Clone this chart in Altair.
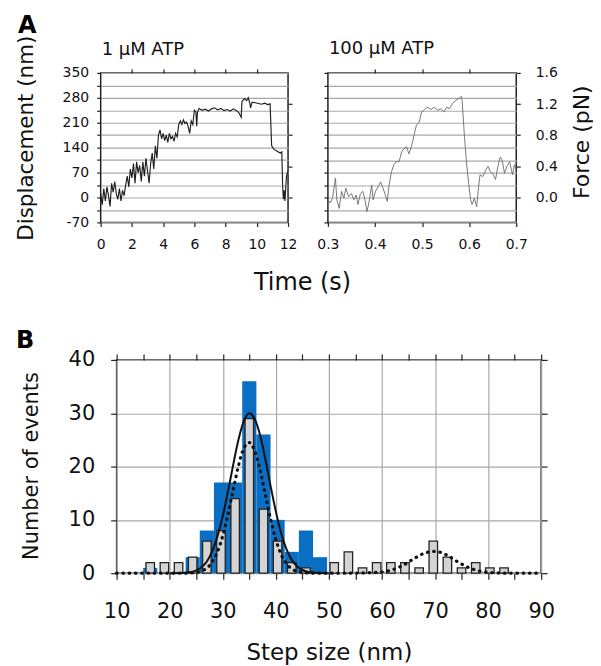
import altair as alt
import pandas as pd

FONT = "DejaVu Sans"

# ---------------- Panel A, left: 1 uM ATP (time s, displacement nm)
left_t = [0.0, 0.1, 0.2, 0.3, 0.4, 0.5, 0.6, 0.7, 0.8, 0.9,
          1.0, 1.1, 1.2, 1.3, 1.4, 1.5, 1.6, 1.7, 1.8, 1.9,
          2.0, 2.1, 2.2, 2.3, 2.4, 2.5, 2.6, 2.7, 2.8, 2.9,
          3.0, 3.1, 3.2, 3.3, 3.4, 3.5, 3.6, 3.7, 3.8, 3.9,
          4.0, 4.1, 4.2, 4.3, 4.4, 4.5, 4.6, 4.7, 4.8, 4.9,
          5.0, 5.1, 5.2, 5.3, 5.4, 5.5, 5.6, 5.7, 5.8, 5.9,
          6.0, 6.1, 6.15, 6.2, 6.3, 6.5, 6.7, 6.9, 7.1, 7.3,
          7.5, 7.7, 7.9, 8.1, 8.3, 8.5, 8.7, 8.85, 9.0, 9.05,
          9.2, 9.35, 9.45, 9.55, 9.6, 9.7, 9.9, 10.1, 10.3, 10.5,
          10.7, 10.85, 10.95, 11.1, 11.3, 11.5, 11.6, 11.65, 11.7, 11.75,
          11.8, 11.9, 12.0]
left_nm = [10, -20, 25, -10, 30, 5, -25, 40, 15, 45,
           10, -5, 25, -10, 20, 5, 35, 60, 30, 80,
           55, 95, 40, 100, 70, 90, 45, 100, 60, 110,
           75, 40, 95, 125, 80, 145, 110, 175, 190, 165,
           180, 160, 175, 155, 180, 165, 172, 158, 180, 170,
           205, 215, 205, 218, 208, 212, 200, 180, 215, 205,
           245, 240, 200, 240, 250, 245, 248, 243, 249, 252,
           246, 250, 244, 247, 243, 249, 244, 238, 225, 270,
           278, 272, 280, 265, 252, 268, 266, 264, 262, 265,
           261, 263, 145, 135, 130, 125, 128, 40, -5, 20,
           -10, 60, 75]

# ---------------- Panel A, right: 100 uM ATP (time s, force pN)
right_t = [0.300, 0.305, 0.310, 0.316, 0.319, 0.324, 0.329, 0.334, 0.338, 0.344,
           0.350, 0.355, 0.360, 0.364, 0.369, 0.374, 0.378, 0.383, 0.387, 0.393,
           0.396, 0.401, 0.407, 0.412, 0.417, 0.421, 0.426, 0.430, 0.435, 0.440,
           0.445, 0.451, 0.457, 0.462, 0.467, 0.472, 0.478, 0.483, 0.488, 0.494,
           0.499, 0.504, 0.511, 0.519, 0.526, 0.533, 0.540, 0.547, 0.552, 0.558,
           0.565, 0.572, 0.578, 0.583, 0.585, 0.590, 0.595, 0.599, 0.603, 0.606,
           0.611, 0.616, 0.620, 0.623, 0.629, 0.635, 0.640, 0.645, 0.650, 0.656,
           0.661, 0.666, 0.670, 0.675, 0.680, 0.686, 0.692, 0.696, 0.700]
right_pn = [-0.03, -0.07, 0.00, 0.25, -0.03, -0.14, 0.08, -0.01, 0.12, 0.01,
            0.05, -0.03, 0.03, -0.09, 0.05, 0.08, -0.01, -0.18, -0.07, 0.16,
            -0.03, 0.08, 0.14, 0.20, 0.12, 0.05, -0.05, 0.16, 0.33, 0.42,
            0.46, 0.46, 0.59, 0.63, 0.65, 0.56, 0.67, 0.80, 0.93, 0.97,
            1.10, 1.12, 1.16, 1.13, 1.16, 1.12, 1.14, 1.10, 1.16, 1.14,
            1.21, 1.25, 1.27, 1.30, 1.25, 0.78, 0.40, 0.18, -0.03, -0.09,
            -0.01, -0.12, 0.14, 0.29, 0.27, 0.35, 0.40, 0.33, 0.31, 0.23,
            0.40, 0.52, 0.48, 0.31, 0.40, 0.46, 0.29, 0.42, 0.35]

# ---------------- Panel B: step-size histograms
bin_centers = [11.0, 13.67, 16.33, 19.0, 21.67, 24.33, 27.0, 29.67, 32.33, 35.0,
               37.67, 40.33, 43.0, 45.67, 48.33, 51.0, 53.67, 56.33, 59.0, 61.67,
               64.33, 67.0, 69.67, 72.33, 75.0, 77.67, 80.33, 83.0, 85.67, 88.33]
blue_counts = [0, 0, 1, 0, 0, 3, 8, 17, 17, 36,
               26, 10, 4, 8, 3, 0, 0, 0, 0, 0,
               0, 0, 0, 0, 0, 0, 0, 0, 0, 0]
gray_counts = [0, 0, 2, 2, 2, 3, 6, 8, 14, 29,
               12, 6, 2, 1, 0, 2, 4, 1, 2, 2,
               2, 1, 6, 3, 1, 2, 1, 1, 0, 0]
fit_x = [20, 22, 24, 25, 26, 27, 28, 29, 30, 31, 32, 33, 34, 35,
         36, 37, 38, 39, 40, 41, 42, 43, 44, 45, 46, 47, 48, 50]
fit_y = [0.0, 0.03, 0.22, 0.52, 1.1, 2.2, 4.1, 6.9, 10.7, 15.4, 20.5, 25.2, 28.6, 30.0,
         29.0, 26.0, 21.5, 16.4, 11.6, 7.5, 4.5, 2.5, 1.3, 0.6, 0.27, 0.11, 0.04, 0.0]
dot_x = [10, 13, 16, 19, 22, 25, 26, 27, 28, 29, 30, 31, 32, 33, 34, 35, 36, 37, 38, 39,
         40, 41, 42, 43, 44, 46, 48, 51, 54, 57, 60, 62, 64, 66, 68, 70, 72, 74, 76, 78,
         80, 82, 84, 87, 90]
dot_y = [0, 0, 0, 0, 0, 0.14, 0.4, 0.95, 2.1, 4.0, 7.0, 11.1, 15.8, 20.3, 23.5, 24.5, 23.0, 19.5, 14.9, 10.2,
         6.3, 3.5, 1.8, 0.8, 0.33, 0.05, 0, 0, 0.02, 0.08, 0.22, 0.64, 1.5, 2.7, 3.75, 4.1, 3.5, 2.3, 1.2, 0.5,
         0.15, 0.04, 0, 0, 0]

# axis tick lists
a_left_ticks = [-70, -35, 0, 35, 70, 105, 140, 175, 210, 245, 280, 315, 350]
a_left_right_ticks = [0, 87.5, 175, 262.5]
a_left_time = [0, 2, 4, 6, 8, 10, 12]
a_left_top = [2, 4, 6, 8, 10]
a_right_grid = [-0.32, -0.16, 0.0, 0.16, 0.32, 0.48, 0.64, 0.8, 0.96, 1.12, 1.28, 1.44, 1.6]
a_right_labels = [0.0, 0.4, 0.8, 1.2, 1.6]
a_right_time = [0.3, 0.4, 0.5, 0.6, 0.7]
a_right_top = [0.4, 0.5, 0.6]
b_x_ticks = list(range(10, 91, 5))
b_y_ticks = [0, 10, 20, 30, 40]

one = pd.DataFrame({"k": [0]})
BLUE = "#0a6fc2"

# ================= Panel A left =================
dfL = pd.DataFrame({"t": left_t, "nm": left_nm})
xL = alt.Scale(domain=[0, 12], nice=False)
yL = alt.Scale(domain=[-70, 350], nice=False)

a1_axes = alt.Chart(dfL).mark_line(opacity=0).encode(
    x=alt.X("t:Q", scale=xL, axis=alt.Axis(
        orient="bottom", values=a_left_time, format="d", labelFontSize=14, labelPadding=11,
        tickSize=4, grid=False, title="Time (s)", titleX=202, titleY=67, titleAlign="center",
        titleBaseline="alphabetic", titleFontSize=24)),
    y=alt.Y("nm:Q", scale=yL, axis=alt.Axis(
        orient="left", values=a_left_ticks,
        labelExpr="datum.value % 70 === 0 ? '' + datum.value : ''",
        labelFontSize=14, labelPadding=8, tickSize=4, grid=True,
        title="Displacement (nm)", titleX=-68, titleY=65, titleAngle=270, titleAlign="center",
        titleBaseline="alphabetic", titleFontSize=21.5)),
)
a1_line = alt.Chart(dfL).mark_line(color="#1e1e1e", strokeWidth=1.15, clip=True).encode(
    x=alt.X("t:Q", scale=xL, axis=alt.Axis(orient="top", values=a_left_top, labels=False,
                                           tickSize=4, grid=False, title=None)),
    y=alt.Y("nm:Q", scale=yL, axis=alt.Axis(orient="right", values=a_left_right_ticks, labels=False,
                                            tickSize=4, grid=False, title=None)),
)
a1_title = alt.Chart(one).mark_text(text="1 \u00b5M ATP", font=FONT, fontSize=18, align="left",
                                    baseline="alphabetic", color="#111").encode(
    x=alt.value(1), y=alt.value(-18))
a1_letter = alt.Chart(one).mark_text(text="A", font=FONT, fontSize=24, fontWeight="bold",
                                     align="left", baseline="alphabetic", color="#000").encode(
    x=alt.value(-83), y=alt.value(-40))
anchor = alt.Chart(one).mark_rect(opacity=0).encode(
    x=alt.value(-92), x2=alt.value(-91), y=alt.value(-63), y2=alt.value(-62))

A1 = alt.layer(a1_axes, a1_line, a1_title, a1_letter, anchor).resolve_axis(
    x="independent", y="independent").properties(width=188, height=150)

# ================= Panel A right =================
dfR = pd.DataFrame({"t": right_t, "f": right_pn})
xR = alt.Scale(domain=[0.3, 0.7], nice=False)
yR = alt.Scale(domain=[-0.32, 1.6], nice=False)

a2_axes = alt.Chart(dfR).mark_line(opacity=0).encode(
    x=alt.X("t:Q", scale=xR, axis=alt.Axis(
        orient="bottom", values=a_right_time, labelExpr="format(datum.value, '.1f')",
        labelFontSize=14, labelPadding=11, tickSize=4, grid=False, title=None)),
    y=alt.Y("f:Q", scale=yR, axis=alt.Axis(
        orient="left", values=a_right_grid, labels=False, tickSize=4, grid=True, title=None)),
)
a2_line = alt.Chart(dfR).mark_line(color="#6a6a6a", strokeWidth=0.9, clip=True).encode(
    x=alt.X("t:Q", scale=xR, axis=alt.Axis(orient="top", values=a_right_top, labels=False,
                                           tickSize=4, grid=False, title=None)),
    y=alt.Y("f:Q", scale=yR, axis=alt.Axis(
        orient="right", values=a_right_labels, labelExpr="format(datum.value, '.1f')",
        labelFontSize=14, labelPadding=15, tickSize=4, grid=False,
        title="Force (pN)", titleX=72, titleY=69, titleAngle=270, titleAlign="center",
        titleBaseline="alphabetic", titleFontSize=22)),
)
a2_title = alt.Chart(one).mark_text(text="100 \u00b5M ATP", font=FONT, fontSize=18, align="left",
                                    baseline="alphabetic", color="#111").encode(
    x=alt.value(1), y=alt.value(-19))

A2 = alt.layer(a2_axes, a2_line, a2_title).resolve_axis(
    x="independent", y="independent").properties(width=189, height=150)

# ================= Panel B =================
dfB = pd.DataFrame({"c": bin_centers, "blue": blue_counts, "gray": gray_counts})
dfFit = pd.DataFrame({"x": fit_x, "y": fit_y})
dfDot = pd.DataFrame({"x": dot_x, "y": dot_y})
xB = alt.Scale(domain=[10, 90], nice=False)
yB = alt.Scale(domain=[0, 40], nice=False)

b_blue = alt.Chart(dfB).transform_filter("datum.blue > 0").transform_calculate(
    lo="datum.c - 1.335", hi="datum.c + 1.335", zero="0").mark_rect(color=BLUE).encode(
    x=alt.X("lo:Q", scale=xB, axis=alt.Axis(
        orient="bottom", values=b_x_ticks,
        labelExpr="datum.value % 10 === 0 ? '' + datum.value : ''",
        labelFontSize=21, labelPadding=21, tickSize=6, grid=True,
        gridOpacity={"condition": {"test": "datum.value % 10 === 0", "value": 1}, "value": 0},
        title="Step size (nm)", titleX=213, titleY=87, titleAlign="center",
        titleBaseline="alphabetic", titleFontSize=23)),
    x2="hi:Q",
    y=alt.Y("blue:Q", scale=yB, axis=alt.Axis(
        orient="left", values=b_y_ticks, labelFontSize=21, labelPadding=16, tickSize=6, grid=True,
        title="Number of events", titleX=-79, titleY=106, titleAngle=270, titleAlign="center",
        titleBaseline="alphabetic", titleFontSize=21)),
    y2="zero:Q",
)
b_gray = alt.Chart(dfB).transform_filter("datum.gray > 0").transform_calculate(
    lo="datum.c - 0.8", hi="datum.c + 0.8", zero="0").mark_rect(
    fill="#d4d4d4", stroke="#222222", strokeWidth=1.3).encode(
    x=alt.X("lo:Q", scale=xB, axis=alt.Axis(orient="top", values=b_x_ticks, labels=False,
                                            tickSize=6, grid=False, title=None)),
    x2="hi:Q",
    y=alt.Y("gray:Q", scale=yB, axis=alt.Axis(orient="right", values=b_y_ticks, labels=False,
                                              tickSize=6, grid=False, title=None)),
    y2="zero:Q",
)
b_fit = alt.Chart(dfFit).mark_line(color="#111111", strokeWidth=2, interpolate="monotone").encode(
    x=alt.X("x:Q", scale=xB, axis=None), y=alt.Y("y:Q", scale=yB, axis=None))
b_dots = alt.Chart(dfDot).mark_line(color="#111111", strokeWidth=3.2, strokeCap="round",
                                    strokeDash=[0.5, 5.8], interpolate="monotone").encode(
    x=alt.X("x:Q", scale=xB, axis=None), y=alt.Y("y:Q", scale=yB, axis=None))
b_letter = alt.Chart(one).mark_text(text="B", font=FONT, fontSize=24, fontWeight="bold",
                                    align="left", baseline="alphabetic", color="#000").encode(
    x=alt.value(-101), y=alt.value(-12))

B = alt.layer(b_blue, b_gray, b_fit, b_dots, b_letter).resolve_axis(
    x="independent", y="independent").properties(width=426, height=214)

spacer = alt.Chart(one).mark_point(opacity=0).properties(
    width=16, height=1, view=alt.ViewBackground(stroke=None))

rowA = alt.hconcat(A1, A2, spacing=40, bounds="flush")
rowB = alt.hconcat(spacer, B, spacing=0, bounds="flush")

chart = alt.vconcat(rowA, rowB, spacing=288, bounds="flush").properties(
    padding=0
).configure_view(
    stroke="#222222", strokeWidth=1.5
).configure_axis(
    labelFont=FONT, titleFont=FONT, labelColor="#111111", titleColor="#111111",
    tickColor="#222222", tickWidth=1.2, domain=False, labelFlush=False, labelOverlap=False,
    titleFontWeight="normal", gridColor="#a8a8a8", gridWidth=1.2,
)

chart.save("out.html", embed_options={"renderer": "svg", "actions": False})
